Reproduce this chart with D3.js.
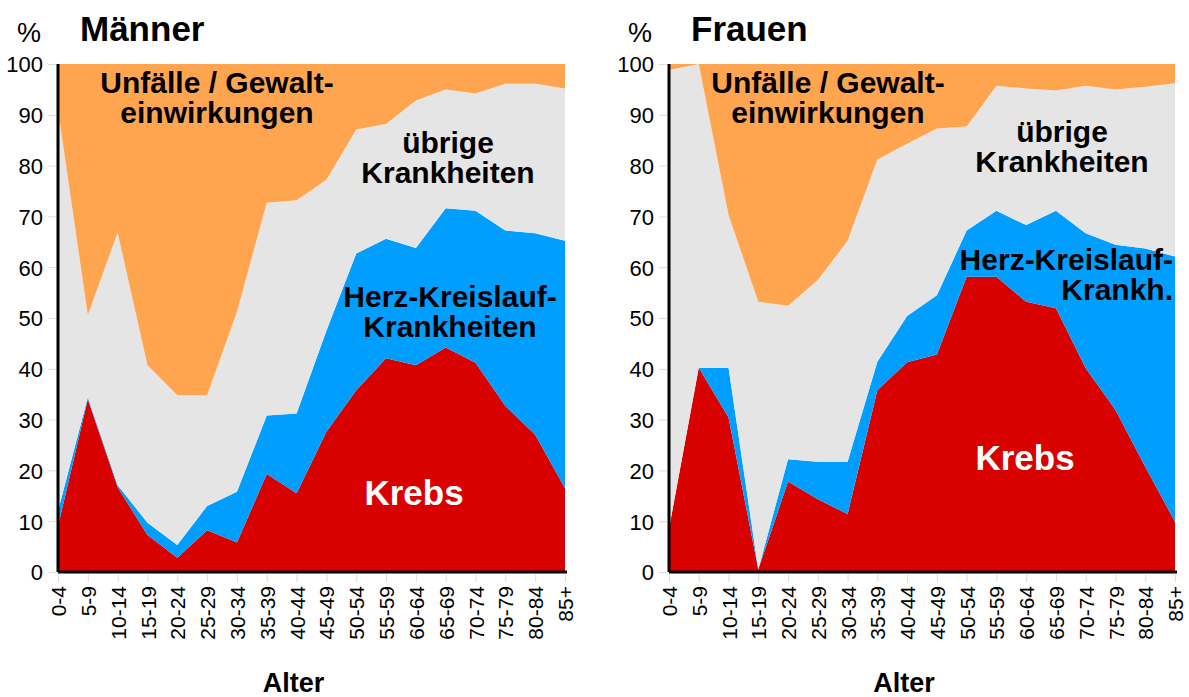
<!DOCTYPE html>
<html>
<head>
<meta charset="utf-8">
<script src="https://cdn.jsdelivr.net/npm/d3@7"></script>
<style>
  body { margin: 0; background: #fff; }
  svg text { font-family: "Liberation Sans", Arial, Helvetica, sans-serif; }
</style>
</head>
<body>
<svg id="chart" width="1189" height="697"></svg>
<script>
// Altersgruppen
const ages = ['0-4', '5-9', '10-14', '15-19', '20-24', '25-29', '30-34', '35-39', '40-44',
  '45-49', '50-54', '55-59', '60-64', '65-69', '70-74', '75-79', '80-84', '85+'];

const yTicks = [0, 10, 20, 30, 40, 50, 60, 70, 80, 90, 100];

// Anteile der Todesursachen in % – Männer
const maennerKrebs = [9, 34, 16.7, 7.3, 2.8, 8.2, 5.8, 19.3, 15.5, 27.6, 35.8, 42.1, 40.7, 44.2, 41.2, 32.7, 27.0, 16.5];
const maennerHerz = [3, 0.4, 0.4, 2.4, 2.5, 4.8, 10.0, 11.5, 15.7, 19.9, 26.9, 23.5, 23.1, 27.4, 29.9, 34.5, 39.7, 48.7];
const maennerUebrige = [79, 16.2, 49.7, 31.0, 29.5, 21.8, 35.4, 41.9, 42.0, 29.7, 24.4, 22.6, 29.0, 23.4, 23.1, 28.9, 29.4, 30.0];
const maennerUnfaelle = [9, 49.4, 33.2, 59.3, 65.2, 65.2, 48.8, 27.3, 26.8, 22.8, 12.9, 11.8, 7.2, 5.0, 5.8, 3.9, 3.9, 4.8];

// Anteile der Todesursachen in % – Frauen
const frauenKrebs = [8.5, 40.2, 30.4, 0.5, 17.8, 14.3, 11.4, 35.8, 41.3, 42.8, 58.1, 58.1, 53.2, 51.9, 40.1, 31.9, 20.7, 9.9];
const frauenHerz = [0, 0, 9.8, 0, 4.4, 7.4, 10.3, 5.6, 9.1, 11.7, 9.1, 13.0, 15.1, 19.2, 26.6, 32.5, 43.0, 52.2];
const frauenUebrige = [90.3, 59.8, 30.1, 52.7, 30.2, 35.8, 43.5, 39.8, 33.9, 32.8, 20.5, 24.6, 26.9, 23.7, 29.0, 30.6, 31.8, 34.1];
const frauenUnfaelle = [1.2, 0, 29.7, 46.8, 47.6, 42.5, 34.8, 18.8, 15.7, 12.7, 12.3, 4.3, 4.8, 5.2, 4.3, 5.0, 4.5, 3.8];

const keys = ['krebs', 'herz', 'uebrige', 'unfaelle'];
const colors = {
  krebs: '#d90000',
  herz: '#009fff',
  uebrige: '#e5e5e5',
  unfaelle: '#ffa54f',
};

const svg = d3.select('#chart');

function buildRows(krebs, herz, uebrige, unfaelle) {
  return ages.map((age, i) => ({
    age,
    krebs: krebs[i],
    herz: herz[i],
    uebrige: uebrige[i],
    unfaelle: unfaelle[i],
  }));
}

function drawPanel(cfg) {
  const g = svg.append('g');
  const x = d3.scalePoint().domain(ages).range([cfg.left, cfg.right]);
  const y = d3.scaleLinear().domain([0, 100]).range([572, 64]);

  const series = d3.stack().keys(keys)(cfg.rows);
  const area = d3
    .area()
    .x((d) => x(d.data.age))
    .y0((d) => y(d[0]))
    .y1((d) => y(d[1]));

  g.selectAll('path.layer')
    .data(series)
    .join('path')
    .attr('class', 'layer')
    .attr('fill', (d) => colors[d.key])
    .attr('d', area);

  // y axis
  const yAxis = g
    .append('g')
    .attr('transform', `translate(${cfg.left},0)`)
    .call(d3.axisLeft(y).tickValues(yTicks).tickSize(9).tickPadding(6));
  yAxis.select('.domain').remove();
  yAxis.selectAll('.tick line').attr('stroke', '#ddd').attr('x2', -2).attr('x1', -10);
  yAxis.selectAll('.tick text')
    .attr('fill', '#000')
    .attr('font-size', 22)
    .attr('x', -15)
    .attr('dy', '0.36em');

  // x axis
  const xAxis = g
    .append('g')
    .attr('transform', `translate(0,${y(0)})`)
    .call(d3.axisBottom(x).tickSize(10).tickPadding(6));
  xAxis.select('.domain').remove();
  xAxis.selectAll('.tick line').attr('stroke', '#ddd').attr('y1', 2);
  xAxis.selectAll('.tick text')
    .attr('fill', '#000')
    .attr('font-size', 21)
    .attr('text-anchor', 'end')
    .attr('transform', 'rotate(-90)')
    .attr('x', -14)
    .attr('y', 0)
    .attr('dy', '0.36em');

  // axis lines
  g.append('line')
    .attr('x1', cfg.left).attr('x2', cfg.left)
    .attr('y1', y(100)).attr('y2', y(0))
    .attr('stroke', '#000').attr('stroke-width', 3);
  g.append('line')
    .attr('x1', cfg.left).attr('x2', cfg.right + 2)
    .attr('y1', y(0)).attr('y2', y(0))
    .attr('stroke', '#000').attr('stroke-width', 3);

  // header
  g.append('text')
    .attr('x', cfg.left - 41).attr('y', 42)
    .attr('font-size', 27)
    .text('%');
  g.append('text')
    .attr('x', cfg.left + 22).attr('y', 41)
    .attr('font-size', 35).attr('font-weight', 'bold')
    .text(cfg.title);
  g.append('text')
    .attr('x', (cfg.left + cfg.right) / 2 - 18).attr('y', 692)
    .attr('text-anchor', 'middle')
    .attr('font-size', 27).attr('font-weight', 'bold')
    .text('Alter');

  // labels inside the areas
  cfg.labels.forEach((lab) => {
    const t = g.append('text')
      .attr('x', lab.x).attr('y', lab.y)
      .attr('text-anchor', lab.anchor || 'middle')
      .attr('font-size', lab.size || 30)
      .attr('font-weight', 'bold')
      .attr('fill', lab.color || '#000');
    lab.lines.forEach((line, i) => {
      t.append('tspan')
        .attr('x', lab.x)
        .attr('dy', i === 0 ? 0 : 30)
        .text(line);
    });
  });
}

drawPanel({
  title: 'Männer',
  left: 58,
  right: 565,
  rows: buildRows(maennerKrebs, maennerHerz, maennerUebrige, maennerUnfaelle),
  labels: [
    { lines: ['Unfälle / Gewalt-', 'einwirkungen'], x: 217, y: 93 },
    { lines: ['übrige', 'Krankheiten'], x: 448, y: 153 },
    { lines: ['Herz-Kreislauf-', 'Krankheiten'], x: 450, y: 307 },
    { lines: ['Krebs'], x: 414, y: 505, size: 35, color: '#fff' },
  ],
});

drawPanel({
  title: 'Frauen',
  left: 669,
  right: 1175,
  rows: buildRows(frauenKrebs, frauenHerz, frauenUebrige, frauenUnfaelle),
  labels: [
    { lines: ['Unfälle / Gewalt-', 'einwirkungen'], x: 828, y: 93 },
    { lines: ['übrige', 'Krankheiten'], x: 1062, y: 142 },
    { lines: ['Herz-Kreislauf-', 'Krankh.'], x: 1173, y: 270, anchor: 'end' },
    { lines: ['Krebs'], x: 1025, y: 470, size: 35, color: '#fff' },
  ],
});
</script>
</body>
</html>
